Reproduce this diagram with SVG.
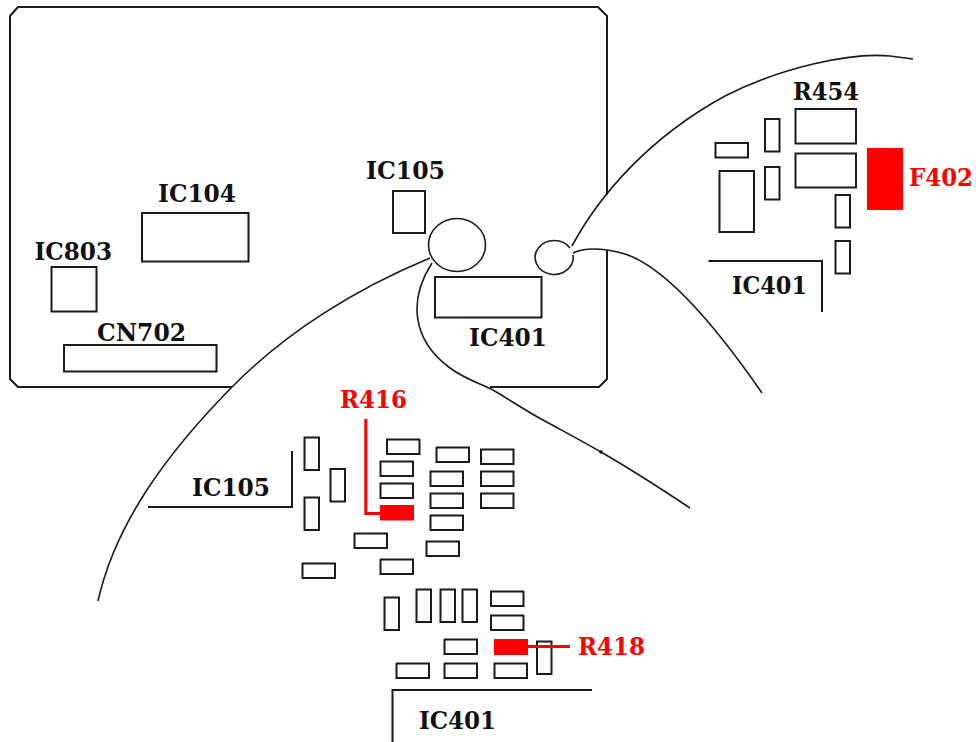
<svg xmlns="http://www.w3.org/2000/svg" width="976" height="742" viewBox="0 0 976 742">
<style>
.p{fill:#fff;stroke:#1a1a1a;stroke-width:2}
.l{fill:none;stroke:#1a1a1a;stroke-width:2}
.c{fill:none;stroke:#1a1a1a;stroke-width:1.6}
.r{fill:#f00}
.rl{fill:none;stroke:#f00;stroke-width:3}
text{font-family:"DejaVu Serif","Liberation Serif",serif;font-weight:bold;font-size:24px;fill:#111}
text.red{fill:#f00}
</style>
<defs>
<rect id="h" class="p" width="32.5" height="14.5"/>
<rect id="v" class="p" width="14.5" height="32.5"/>
</defs>
<rect width="976" height="742" fill="#fff"/>
<g id="board">
<path class="l" d="M232 387H18L10 379V16L18 7H598L607 16V195M607 250V379L599 387H490"/>
<rect class="p" x="142" y="213" width="106.500" height="48.500"/>
<rect class="p" x="51.500" y="267" width="45" height="44.500"/>
<rect class="p" x="64" y="345" width="152.500" height="26.500"/>
<rect class="p" x="393" y="191" width="32" height="42"/>
<rect class="p" x="435" y="277" width="106.500" height="40.500"/>
<text x="158" y="202" textLength="78" lengthAdjust="spacingAndGlyphs">IC104</text>
<text x="34.500" y="260" textLength="77.500" lengthAdjust="spacingAndGlyphs">IC803</text>
<text x="97" y="340.500" textLength="89" lengthAdjust="spacingAndGlyphs">CN702</text>
<text x="366" y="179" textLength="79" lengthAdjust="spacingAndGlyphs">IC105</text>
<text x="469" y="346" textLength="78" lengthAdjust="spacingAndGlyphs">IC401</text>
</g>
<g id="connectors">
<ellipse class="c" cx="457" cy="245" rx="28.500" ry="26.500"/>
<path class="c" d="M430 258C355 289 285 333 232 387C165 455 115 525 98 601"/>
<path class="c" d="M432 263C408 300 412 340 450 368C465 379 479 383 493 390C510 400 526 411 543 420C563 431 582 441 601 452C632 470 660 488 690 508"/>
<path class="c" d="M570 248A19 17 0 1 0 573 255"/>
<path class="c" d="M572 246C600 194 650 137 725 96C780 68 850 52 890 56L913 59"/>
<path class="c" d="M573 253C585 247 605 248 625 254C665 267 715 325 762 393"/>
<circle cx="601" cy="452" r="1.800" fill="#111"/>
</g>
<g id="detail-ic105">
<path class="l" d="M292 451V507H148"/>
<text x="192" y="496" textLength="78" lengthAdjust="spacingAndGlyphs">IC105</text>
<use href="#v" x="304.500" y="437.500"/>
<use href="#v" x="330.500" y="469"/>
<use href="#v" x="304.500" y="497.500"/>
<use href="#h" x="387" y="439.500"/>
<use href="#h" x="380.500" y="461.500"/>
<use href="#h" x="380.500" y="483.500"/>
<use href="#h" x="436.500" y="447.500"/>
<use href="#h" x="430.500" y="471.500"/>
<use href="#h" x="430.500" y="493.500"/>
<use href="#h" x="430.500" y="515.500"/>
<use href="#h" x="426.500" y="541.500"/>
<use href="#h" x="481" y="449.500"/>
<use href="#h" x="481" y="471.500"/>
<use href="#h" x="481" y="493.500"/>
<use href="#h" x="354.500" y="533.500"/>
<use href="#h" x="380.500" y="559.500"/>
<use href="#h" x="302.500" y="563.500"/>
</g>
<g id="R416">
<path class="rl" d="M365.800 419V513.500H381"/>
<rect class="r" x="380" y="505" width="34" height="15.500"/>
<text class="red" x="340" y="408" textLength="67" lengthAdjust="spacingAndGlyphs">R416</text>
</g>
<g id="detail-ic401-lower">
<use href="#v" x="384.500" y="597.500"/>
<use href="#v" x="416.500" y="589.500"/>
<use href="#v" x="440.500" y="589.500"/>
<use href="#v" x="462.500" y="589.500"/>
<use href="#h" x="491" y="591.500"/>
<use href="#h" x="491" y="615.500"/>
<use href="#h" x="444.500" y="639.500"/>
<use href="#v" x="537" y="641.500"/>
<use href="#h" x="396.500" y="663.500"/>
<use href="#h" x="444.500" y="663.500"/>
<use href="#h" x="494.500" y="663.500"/>
<path class="l" d="M392.500 742V690H592"/>
<text x="419" y="729" textLength="77" lengthAdjust="spacingAndGlyphs">IC401</text>
</g>
<g id="R418">
<path class="rl" d="M527 646.500H570"/>
<rect class="r" x="494" y="639" width="34" height="16"/>
<text class="red" x="578" y="655" textLength="67" lengthAdjust="spacingAndGlyphs">R418</text>
</g>
<g id="detail-right">
<rect class="p" x="795.500" y="109" width="60.500" height="34.500"/>
<rect class="p" x="795.500" y="153.500" width="60.500" height="34"/>
<use href="#v" x="765" y="119"/>
<use href="#v" x="765" y="167"/>
<use href="#h" x="715.500" y="143"/>
<rect class="p" x="719.500" y="171" width="34.500" height="61"/>
<use href="#v" x="835.500" y="195"/>
<use href="#v" x="835.500" y="241"/>
<path class="l" d="M708.500 261H822V312"/>
<text x="793" y="100" textLength="66" lengthAdjust="spacingAndGlyphs">R454</text>
<text x="732" y="294" textLength="75" lengthAdjust="spacingAndGlyphs">IC401</text>
</g>
<g id="F402">
<rect class="r" x="867" y="148" width="36" height="62"/>
<text class="red" x="909" y="185.700" textLength="64" lengthAdjust="spacingAndGlyphs">F402</text>
</g>
</svg>
